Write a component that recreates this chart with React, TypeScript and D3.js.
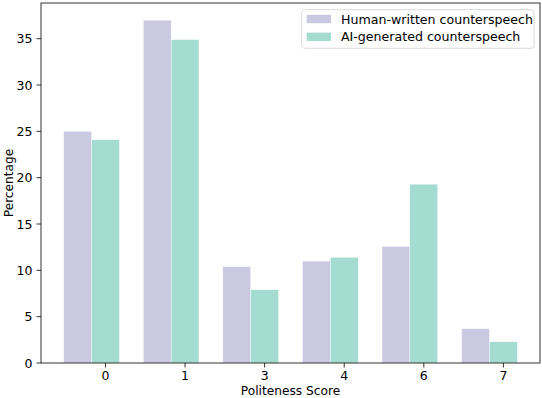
import React from "react";
import * as d3 from "d3";

const categories = ["0", "1", "3", "4", "6", "7"];
const humanValues = [25.0, 37.0, 10.4, 11.0, 12.6, 3.7];
const aiValues = [24.1, 34.9, 7.9, 11.4, 19.3, 2.3];
const seriesNames = ["Human-written counterspeech", "AI-generated counterspeech"];
const yTicks = [0, 5, 10, 15, 20, 25, 30, 35];

const W = 542;
const H = 398;
const left = 41;
const right = 540;
const top = 3;
const bottom = 363;
const barW = 0.35;
const humanColor = "#cbc8e1";
const aiColor = "#a4dcd2";
const FONT = "'DejaVu Sans', sans-serif";

export default function App() {
  const lo = -1.5 * barW;
  const hi = categories.length - 1 + 0.5 * barW;
  const pad = (hi - lo) * 0.05;
  const x = d3.scaleLinear().domain([lo - pad, hi + pad]).range([left, right]);
  const ymax = (d3.max([...humanValues, ...aiValues]) as number) * 1.05;
  const y = d3.scaleLinear().domain([0, ymax]).range([bottom, top]);
  const bw = x(barW) - x(0);

  return (
    <svg
      width={W}
      height={H}
      style={{ position: "absolute", left: 0, top: 0, background: "#fff" }}
      fontFamily={FONT}
    >
      {categories.map((c, i) => (
        <g key={c}>
          <rect
            x={x(i - 1.5 * barW)}
            y={y(humanValues[i])}
            width={bw}
            height={y(0) - y(humanValues[i])}
            fill={humanColor}
            stroke="#fff"
            strokeWidth={0.4}
          />
          <rect
            x={x(i - 0.5 * barW)}
            y={y(aiValues[i])}
            width={bw}
            height={y(0) - y(aiValues[i])}
            fill={aiColor}
            stroke="#fff"
            strokeWidth={0.4}
          />
        </g>
      ))}
      {yTicks.map((t) => (
        <g key={t}>
          <line x1={left - 4.5} x2={left} y1={y(t)} y2={y(t)} stroke="#000" strokeWidth={0.8} />
          <text
            x={left - 8.5}
            y={y(t)}
            dy="0.36em"
            textAnchor="end"
            fontSize={12.5}
            fill="#000"
          >
            {t}
          </text>
        </g>
      ))}
      {categories.map((c, i) => (
        <g key={c}>
          <line x1={x(i)} x2={x(i)} y1={bottom} y2={bottom + 4.5} stroke="#000" strokeWidth={0.8} />
          <text x={x(i)} y={bottom + 7.5} dy="0.76em" textAnchor="middle" fontSize={12.5} fill="#000">
            {c}
          </text>
        </g>
      ))}
      <rect
        x={left}
        y={top}
        width={right - left}
        height={bottom - top}
        fill="none"
        stroke="#000"
        strokeWidth={0.8}
      />
      <text x={(left + right) / 2} y={395} textAnchor="middle" fontSize={12.2} fill="#000">
        Politeness Score
      </text>
      <text
        transform={`translate(${12.5},${(top + bottom) / 2}) rotate(-90)`}
        textAnchor="middle"
        fontSize={12.2}
        fill="#000"
      >
        Percentage
      </text>
      <g>
        <rect
          x={301.7}
          y={9.7}
          width={232.3}
          height={38.6}
          rx={3}
          fill="#fff"
          fillOpacity={0.8}
          stroke="#d0d0d0"
          strokeWidth={0.8}
        />
        {seriesNames.map((n, i) => (
          <g key={n}>
            <rect x={306.7} y={14.8 + i * 17.8} width={24.3} height={8.4} fill={i === 0 ? humanColor : aiColor} />
            <text x={341} y={19 + i * 17.8} dy="0.36em" fontSize={12.6} fill="#000">
              {n}
            </text>
          </g>
        ))}
      </g>
    </svg>
  );
}
